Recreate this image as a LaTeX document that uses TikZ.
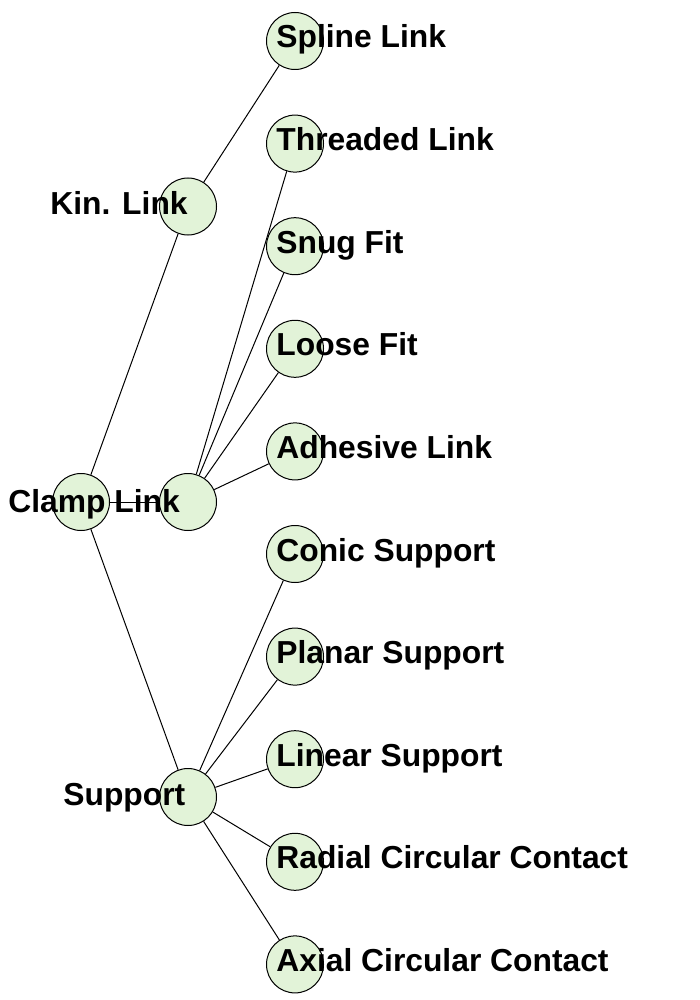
\documentclass[tikz,border=0pt]{standalone}
\usepackage{fontspec}
\setmainfont{Liberation Sans}
\definecolor{nodefill}{RGB}{226,243,216}
\begin{document}
\begin{tikzpicture}[x=0.5pt,y=-0.5pt,
  vert/.style={circle,draw=black,fill=nodefill,line width=0.5pt,minimum size=28.5pt,inner sep=0pt},
  lbl/.style={inner sep=0pt,anchor=base west,font=\fontsize{15.9}{19}\selectfont\bfseries},
  edge/.style={line width=0.5pt,draw=black}]
\useasboundingbox (0,0) rectangle (700,1000);
% circles
\node[vert] (clamp) at (81,502) {};
\node[vert] (kin) at (188,206.5) {};
\node[vert] (mid) at (188,502) {};
\node[vert] (support) at (188,797) {};
\node[vert] (spline) at (295,41) {};
\node[vert] (threaded) at (295,143.6) {};
\node[vert] (snug) at (295,246.2) {};
\node[vert] (loose) at (295,348.8) {};
\node[vert] (adhesive) at (295,451.4) {};
\node[vert] (conic) at (295,554) {};
\node[vert] (planar) at (295,656.6) {};
\node[vert] (linear) at (295,759.2) {};
\node[vert] (radial) at (295,861.8) {};
\node[vert] (axial) at (295,964.4) {};
% edges
\draw[edge] (clamp) -- (kin);
\draw[edge] (clamp) -- (mid);
\draw[edge] (clamp) -- (support);
\draw[edge] (kin) -- (spline);
\draw[edge] (mid) -- (threaded);
\draw[edge] (mid) -- (snug);
\draw[edge] (mid) -- (loose);
\draw[edge] (mid) -- (adhesive);
\draw[edge] (support) -- (conic);
\draw[edge] (support) -- (planar);
\draw[edge] (support) -- (linear);
\draw[edge] (support) -- (radial);
\draw[edge] (support) -- (axial);
% labels
\node[lbl] (lclamp) at (8,512) {Clamp Link};
\node[lbl] (lkin) at (50,214.5) {Kin. Link};
\node[lbl] (lsupport) at (63,805) {Support};
\node[lbl] (lspline) at (276,48) {Spline Link};
\node[lbl] (lthreaded) at (276,150.6) {Threaded Link};
\node[lbl] (lsnug) at (276,253.2) {Snug Fit};
\node[lbl] (lloose) at (276,355.8) {Loose Fit};
\node[lbl] (ladhesive) at (276,458.4) {Adhesive Link};
\node[lbl] (lconic) at (276,561) {Conic Support};
\node[lbl] (lplanar) at (276,663.6) {Planar Support};
\node[lbl] (llinear) at (276,766.2) {Linear Support};
\node[lbl] (lradial) at (276,868.8) {Radial Circular Contact};
\node[lbl] (laxial) at (276,971.4) {Axial Circular Contact};
\end{tikzpicture}
\end{document}
